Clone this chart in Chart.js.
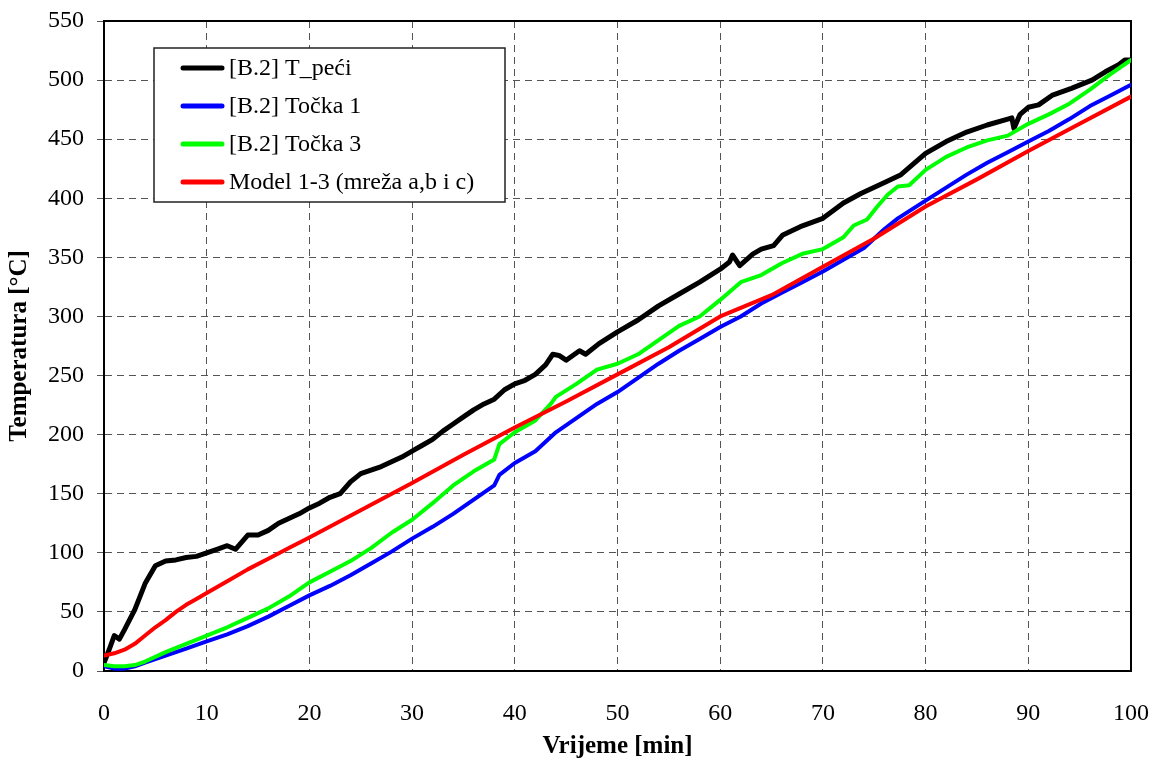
<!DOCTYPE html>
<html>
<head>
<meta charset="utf-8">
<script src="https://cdn.jsdelivr.net/npm/chart.js@4.4.1/dist/chart.umd.min.js"></script>
<style>
  body { margin: 0; background: #fff; }
  canvas { display: block; }
</style>
</head>
<body>
<canvas id="myChart" width="1153" height="762"></canvas>
<script>
// series labels
const seriesNames = ["[B.2] T_peći", "[B.2] Točka 1", "[B.2] Točka 3", "Model 1-3 (mreža a,b i c)"];

// [B.2] T_peći
const peciTime = [0, 0.5, 1, 1.5, 2, 3, 4, 5, 6, 7, 8, 9, 10, 11, 12, 12.8, 14, 15, 16, 17, 18, 19, 20,
    21, 22, 23, 24, 25, 26, 27, 28, 29, 30, 31, 32, 33, 34, 35, 36, 37, 38, 39, 40, 41, 42, 43, 43.7,
    44.3, 45, 46.3, 46.9, 48.2, 50, 52, 54, 56, 58, 60, 60.9, 61.2, 61.9, 63.2, 64, 65.2, 66.1, 67.8,
    70, 72, 73.7, 75.9, 77.6, 80, 82, 84, 86, 88, 88.4, 88.6, 89.2, 90, 91, 92.3, 94.2, 96.2, 97.5,
    98.8, 99.4, 100];
const peciTemp = [7, 18, 30, 27, 35, 52, 74, 89, 93, 94, 96, 97, 100, 103, 106, 103, 115, 115, 119, 125, 129, 133, 138,
    142, 147, 150, 160, 167, 170, 173, 177, 181, 186, 191, 196, 203, 209, 215, 221, 226, 230, 238, 243, 246, 251, 259, 268,
    267, 263, 271, 268, 277, 287, 297, 309, 319, 329, 340, 346, 352, 343, 353, 357, 360, 369, 376,
    383, 396, 404, 413, 420, 438, 448, 456, 462, 467, 468, 459, 471, 477, 479, 487, 493, 500, 507,
    513, 517, 517];

// [B.2] Točka 1
const tocka1Time = [0, 1, 2, 3, 4, 6, 8, 10, 12, 14, 16, 18, 20, 22, 24, 26, 28, 30, 32, 34, 36, 38, 38.5, 40,
    42, 44, 46, 48, 50, 52, 54, 56, 58, 60, 62, 64, 66, 68, 70, 72, 74, 76, 77.3, 80, 82, 84, 86, 88, 90,
    92, 94, 96, 98, 100];
const tocka1Temp = [4, 2, 2, 4, 7, 13, 19, 25, 31, 38, 46, 55, 64, 72, 81, 91, 101, 112, 122, 133, 145, 157, 166, 176,
    186, 202, 214, 226, 236, 248, 260, 271, 281, 291, 300, 311, 320, 329, 338, 348, 358, 374, 383, 398, 409, 420, 430, 439, 448,
    457, 467, 478, 487, 496];

// [B.2] Točka 3
const tocka3Time = [0, 1, 2, 3, 4, 6, 8, 10, 12, 14, 16, 18, 20, 22, 24, 26, 28, 30, 32, 34, 36, 38, 38.5, 40,
    42, 43.5, 44, 46, 48, 50, 52, 54, 56, 58, 60, 62, 64, 66, 68, 70, 72, 73, 74.3, 75.3, 76.3, 77.3, 78.4,
    80, 82, 84, 86, 88, 90, 92, 94, 96, 98, 100];
const tocka3Temp = [5, 4, 4, 5, 8, 16, 23, 30, 37, 45, 53, 63, 75, 84, 93, 104, 117, 128, 142, 157, 169, 179, 192, 202,
    212, 226, 232, 243, 255, 260, 268, 280, 292, 300, 314, 329, 335, 345, 353, 357, 367, 377, 382, 393, 403, 410, 411,
    424, 435, 443, 449, 453, 463, 471, 480, 492, 505, 517];

// Model 1-3 (mreža a,b i c)
const modelTime = [0, 1, 2, 3, 4, 5, 6, 7, 8, 9, 10, 12, 14, 16, 18, 20, 25, 30, 35, 40, 45, 50, 55, 60, 65, 70,
    75, 80, 85, 90, 95, 100];
const modelTemp = [13, 15, 18, 23, 30, 37, 43, 50, 56, 61, 66, 76, 86, 95, 104, 113, 136, 159, 183, 206, 228, 251, 274, 300, 318, 342,
    366, 393, 416, 440, 463, 486];

// axis ranges / ticks
const xTicks = [0, 10, 20, 30, 40, 50, 60, 70, 80, 90, 100];
const yTicks = [0, 50, 100, 150, 200, 250, 300, 350, 400, 450, 500, 550];

window.onload = () => {
    const serif = "'Liberation Serif', 'Times New Roman', serif";

    function toPoints(xs, ys) {
        return xs.map((x, i) => ({ x: x, y: ys[i] }));
    }

    // don't let the tick labels push the plot area around
    function noOverflow(scale) {
        scale.paddingLeft = 0;
        scale.paddingRight = 0;
        scale.paddingTop = 0;
        scale.paddingBottom = 0;
    }

    // frame round the plot area
    const framePlugin = {
        id: "frame",
        beforeDatasetsDraw(chart) {
            const { ctx, chartArea } = chart;
            ctx.save();
            ctx.strokeStyle = "#000";
            ctx.lineWidth = 2;
            ctx.strokeRect(chartArea.left, chartArea.top, chartArea.right - chartArea.left, chartArea.bottom - chartArea.top);
            ctx.restore();
        },
    };

    // boxed legend inside the plot
    const boxLegend = {
        id: "boxLegend",
        afterDatasetsDraw(chart) {
            const { ctx, chartArea } = chart;
            const x0 = chartArea.left + 50;
            const y0 = chartArea.top + 27;
            const w = 351;
            const h = 154;
            ctx.save();
            ctx.fillStyle = "#fff";
            ctx.fillRect(x0, y0, w, h);
            ctx.strokeStyle = "#222";
            ctx.lineWidth = 1.5;
            ctx.strokeRect(x0, y0, w, h);
            ctx.font = "24px " + serif;
            ctx.textBaseline = "middle";
            chart.data.datasets.forEach((ds, i) => {
                const yy = y0 + 20 + i * 38;
                ctx.strokeStyle = ds.borderColor;
                ctx.lineWidth = 5;
                ctx.lineCap = "round";
                ctx.beginPath();
                ctx.moveTo(x0 + 29, yy);
                ctx.lineTo(x0 + 68, yy);
                ctx.stroke();
                ctx.fillStyle = "#000";
                ctx.fillText(ds.label, x0 + 75, yy + 1);
            });
            ctx.restore();
        },
    };

    function createChart() {
        const data = {
            datasets: [
                {
                    label: seriesNames[0],
                    data: toPoints(peciTime, peciTemp),
                    borderColor: "#000000",
                    borderWidth: 5,
                    order: 3,
                },
                {
                    label: seriesNames[1],
                    data: toPoints(tocka1Time, tocka1Temp),
                    borderColor: "#0000ff",
                    borderWidth: 4,
                    order: 2,
                },
                {
                    label: seriesNames[2],
                    data: toPoints(tocka3Time, tocka3Temp),
                    borderColor: "#00ff00",
                    borderWidth: 4,
                    order: 1,
                },
                {
                    label: seriesNames[3],
                    data: toPoints(modelTime, modelTemp),
                    borderColor: "#ff0000",
                    borderWidth: 4,
                    order: 0,
                },
            ],
        };

        const config = {
            type: "line",
            data: data,
            options: {
                responsive: false,
                animation: false,
                events: [],
                layout: { padding: { top: 21, right: 22, left: 0, bottom: 0 } },
                elements: {
                    point: { radius: 0 },
                    line: { tension: 0, borderJoinStyle: "round", borderCapStyle: "round" },
                },
                plugins: {
                    legend: { display: false },
                    tooltip: { enabled: false },
                },
                scales: {
                    x: {
                        type: "linear",
                        min: xTicks[0],
                        max: xTicks[xTicks.length - 1],
                        afterBuildTicks: (scale) => {
                            scale.ticks = xTicks.map((v) => ({ value: v }));
                        },
                        afterFit: (scale) => {
                            scale.height = 91;
                            noOverflow(scale);
                        },
                        grid: {
                            color: "#555",
                            lineWidth: 1,
                            drawTicks: false,
                        },
                        border: { display: true, color: "#000", width: 2, dash: [7, 5] },
                        ticks: {
                            color: "#000",
                            padding: 28,
                            maxRotation: 0,
                            font: { family: serif, size: 24 },
                        },
                        title: {
                            display: true,
                            text: "Vrijeme [min]",
                            color: "#000",
                            font: { family: serif, size: 25, weight: "bold" },
                            padding: { top: 0, bottom: 0 },
                        },
                    },
                    y: {
                        min: yTicks[0],
                        max: yTicks[yTicks.length - 1],
                        afterBuildTicks: (scale) => {
                            scale.ticks = yTicks.map((v) => ({ value: v }));
                        },
                        afterFit: (scale) => {
                            scale.width = 104;
                            noOverflow(scale);
                        },
                        grid: {
                            color: "#555",
                            lineWidth: 1,
                            tickLength: 7,
                        },
                        border: { display: true, color: "#000", width: 2, dash: [7, 5] },
                        ticks: {
                            color: "#000",
                            padding: 13,
                            font: { family: serif, size: 24 },
                        },
                        title: {
                            display: true,
                            text: "Temperatura [°C]",
                            color: "#000",
                            font: { family: serif, size: 25, weight: "bold" },
                            padding: { top: 5, bottom: 0 },
                        },
                    },
                },
            },
            plugins: [framePlugin, boxLegend],
        };

        const myChart = new Chart(document.getElementById("myChart"), config);
    }

    createChart();
};
</script>
</body>
</html>
